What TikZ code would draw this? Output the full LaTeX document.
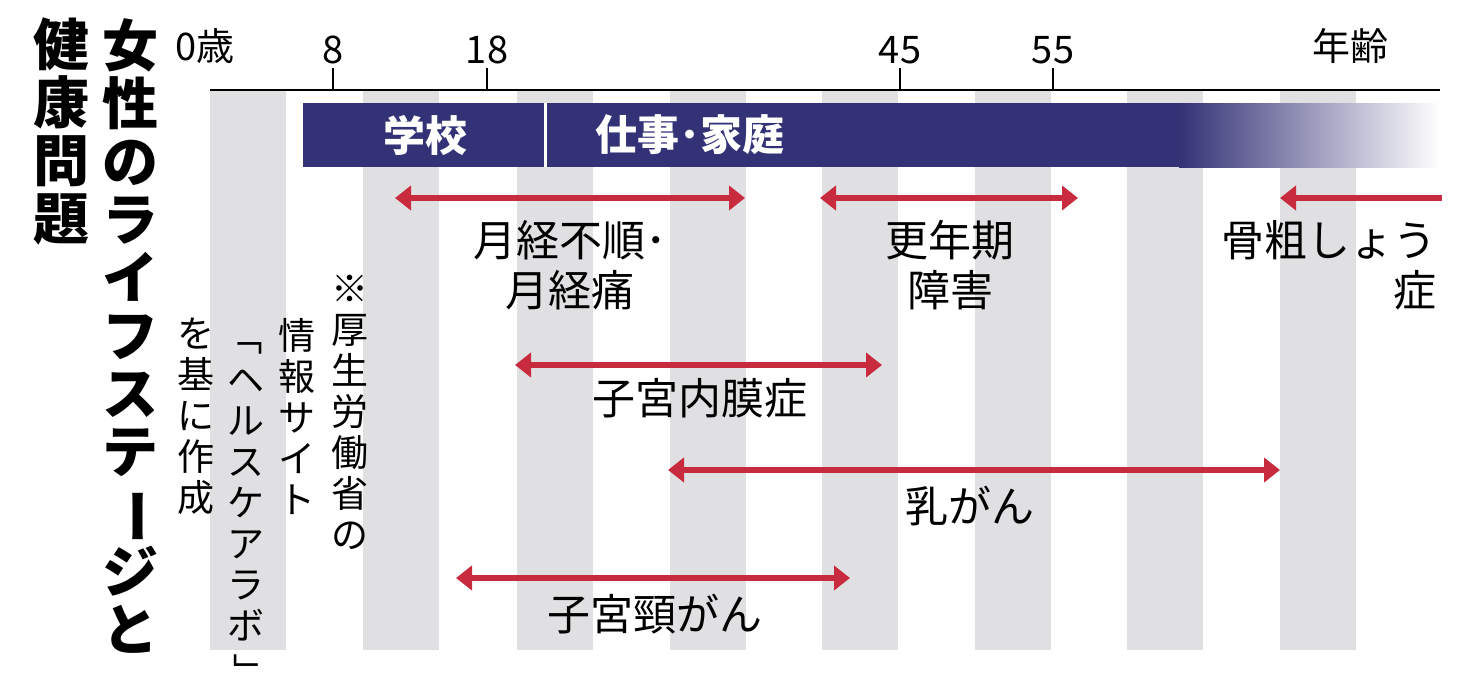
\documentclass[tikz,border=0pt]{standalone}
\usepackage{fontspec}
\setmainfont{Noto Sans CJK JP}
\usetikzlibrary{arrows.meta}
\definecolor{bahn}{RGB}{52,50,118}
\definecolor{streifen}{RGB}{224,224,226}
\definecolor{pfeilrot}{RGB}{200,42,62}
\newcommand{\vbar}{\rotatebox[origin=c]{-90}{ー}}

\begin{document}
\begin{tikzpicture}[x=1pt,y=-1pt,
    lebens/.style={pfeilrot, line width=6pt, {Triangle[length=16pt,width=24pt]}-{Triangle[length=16pt,width=24pt]}},
    label/.style={font=\fontsize{43}{50}\selectfont, align=center, inner sep=0pt},
    tick/.style={font=\fontsize{38}{40}\selectfont, inner sep=0pt},
    vnote/.style={font=\fontsize{37}{41}\selectfont, align=center, inner sep=0pt, anchor=north},
    titel/.style={font=\bfseries\fontsize{56}{58}\selectfont, align=center, inner sep=0pt, anchor=north}]

    \useasboundingbox[fill=white] (0,0) rectangle (1465,677);

    % stripes
    \foreach \x in {210,363,517,670,822,975,1127,1280}
        \fill[streifen] (\x,90) rectangle ++(76,560);

    % axis
    \draw[line width=2.5pt] (210,90) -- (1440,90);
    \foreach \x/\t in {333/8,487/18,900/45,1053/55} {
        \draw[line width=2.5pt] (\x,90) -- (\x,68);
        \node[tick, anchor=south] (t\t) at (\x,64) {\t};
    }
    \node[tick, anchor=south west] (t0) at (175,64) {0歳};
    \node[tick, anchor=south] (alter) at (1350,64) {年齢};

    % bar
    \fill[bahn] (303,103) rectangle (1180,167);
    \shade[left color=bahn, right color=white] (1179,103) rectangle (1440,167);
    \draw[white, line width=3pt] (545,103) -- (545,167);
    \node[label, white, font=\bfseries\fontsize{42}{48}\selectfont] (schule) at (425,135) {学校};
    \node[label, white, font=\bfseries\fontsize{42}{48}\selectfont] (arbeit) at (690,135) {仕事･家庭};

    % arrows
    \coordinate (a1) at (395,198);  \coordinate (b1) at (745,198);
    \coordinate (a2) at (820,198);  \coordinate (b2) at (1078,198);
    \coordinate (a3) at (1280,198); \coordinate (b3) at (1442,198);
    \coordinate (a4) at (515,365);  \coordinate (b4) at (882,365);
    \coordinate (a5) at (668,470);  \coordinate (b5) at (1280,470);
    \coordinate (a6) at (456,578);  \coordinate (b6) at (850,578);
    \draw[lebens] (a1) -- (b1);
    \draw[lebens] (a2) -- (b2);
    \draw[pfeilrot, line width=6pt, {Triangle[length=16pt,width=24pt]}-] (a3) -- (b3);
    \draw[lebens] (a4) -- (b4);
    \draw[lebens] (a5) -- (b5);
    \draw[lebens] (a6) -- (b6);

    % labels
    \node[label] (gekkei) at (570,265) {月経不順･\\月経痛};
    \node[label] (kounen) at (950,265) {更年期\\障害};
    \node[label, anchor=north east] (kotsu) at (1437,220) {骨粗しょう};
    \node[label, anchor=north east] (kotsu2) at (1437,270) {症};
    \node[label] (naimaku) at (700,398) {子宮内膜症};
    \node[label] (nyugan) at (970,506) {乳がん};
    \node[label] (keigan) at (655,614) {子宮頸がん};

    % source note
    \node[vnote] (q1) at (350,275) {※\\厚\\生\\労\\働\\省\\の};
    \node[vnote] (q2) at (297,318) {情\\報\\サ\\イ\\ト};
    \node[vnote] (q3) at (246,318) {\rotatebox[origin=c]{-90}{「}\\ヘ\\ル\\ス\\ケ\\ア\\ラ\\ボ\\\rotatebox[origin=c]{-90}{」}};
    \node[vnote] (q4) at (196,318) {を\\基\\に\\作\\成};

    % title
    \node[titel] (titel1) at (130,18) {女\\性\\の\\ラ\\イ\\フ\\ス\\テ\\\vbar\\ジ\\と};
    \node[titel] (titel2) at (62,18) {健\\康\\問\\題};
\end{tikzpicture}
\end{document}
